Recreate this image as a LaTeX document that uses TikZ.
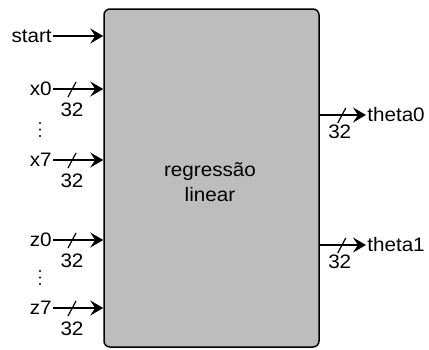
\documentclass[tikz,border=0pt]{standalone}
\usepackage{fontspec}
\setmainfont{Liberation Sans}
\usetikzlibrary{arrows.meta,calc}
\definecolor{blockgray}{gray}{0.74}
\begin{document}
\begin{tikzpicture}[x=1pt,y=-1pt,
  lbl/.style={font=\fontsize{19.5}{25}\selectfont, inner sep=1pt, xscale=1.06},
  wire/.style={line width=1.6pt, -{Stealth[length=13pt,width=15pt,inset=5pt]}},
  busmark/.style={line width=1.2pt},
  block/.style={draw, line width=1.5pt, rounded corners=6pt, fill=blockgray,
    minimum width=215pt, minimum height=338pt, inner sep=0pt}]
\useasboundingbox (0,0) rectangle (429,349);

% main block
\node[block] (box) at (211.5,178) {};
\node[lbl, align=center] (title) at (210,182) {regressão\\linear};

% single-bit input
\node[lbl, anchor=east] (lstart) at (53,36) {start};
\draw[wire] (lstart.east) -- (lstart.east -| box.west);

% 32-bit inputs
\foreach \n/\y in {x0/89, x7/160, z0/240, z7/308} {
  \node[lbl, anchor=east] (l\n) at (53,\y) {\n};
  \draw[wire] (l\n.east) -- (l\n.east -| box.west);
  \coordinate (s\n) at ($(l\n.east)+(19,0)$);
  \draw[busmark] ($(s\n)+(-4,8)$) -- ($(s\n)+(4,-7)$);
  \node[lbl] (w\n) at ($(s\n)+(0,21)$) {32};
}

% ellipses between bus groups
\foreach \y in {123,129.5,136,271,277.5,284} {
  \fill (40,\y) circle (1.2pt);
}

% 32-bit outputs
\foreach \n/\y in {0/115, 1/245} {
  \node[lbl, anchor=west] (t\n) at (366,\y) {theta\n};
  \draw[wire] (box.east |- t\n.west) -- (t\n.west);
  \coordinate (o\n) at ($(box.east |- t\n.west)+(22,0)$);
  \draw[busmark] ($(o\n)+(-4,8)$) -- ($(o\n)+(4,-7)$);
  \node[lbl] (v\n) at ($(o\n)+(-2,17)$) {32};
}
\end{tikzpicture}
\end{document}
